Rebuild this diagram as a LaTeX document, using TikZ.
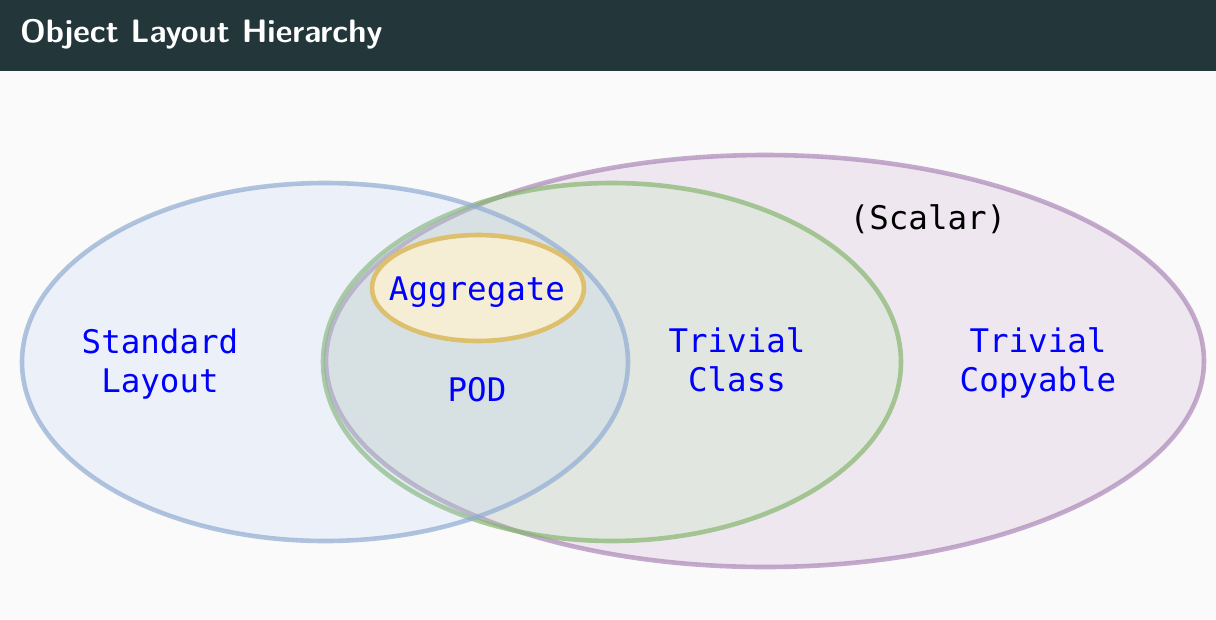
\documentclass[tikz,border=0pt]{standalone}
\usepackage{fontspec}
\newfontfamily\codefont{DejaVu Sans Mono}
\definecolor{headbg}{HTML}{23373B}
\definecolor{pagebg}{HTML}{FAFAFA}
\definecolor{slblue}{RGB}{175,205,245}
\definecolor{slbluedraw}{RGB}{145,172,210}
\definecolor{tcgreen}{RGB}{167,230,163}
\definecolor{tcgreendraw}{RGB}{135,182,112}
\definecolor{cppurple}{RGB}{185,150,190}
\definecolor{cppurpledraw}{RGB}{172,136,184}
\definecolor{aggfill}{HTML}{F5EED5}
\definecolor{aggdraw}{HTML}{DCC06E}
\tikzset{
  setshape/.style={line width=4.6pt, fill opacity=0.18, draw opacity=0.7},
  setlabel/.style={font=\codefont\fontsize{32.5}{39}\selectfont, text=blue, align=center, inner sep=0pt},
  note/.style={font=\codefont\fontsize{32.5}{39}\selectfont, text=black, inner sep=0pt},
  titletext/.style={font=\sffamily\bfseries\fontsize{32.4}{40}\selectfont, text=white, anchor=base west, inner sep=0pt}
}
\begin{document}
\begin{tikzpicture}[x=1pt, y=-1pt]
  \useasboundingbox (0,0) rectangle (1216,619);
  % page and header bar
  \fill[pagebg] (0,0) rectangle (1216,619);
  \fill[headbg] (0,0) rectangle (1216,71);
  \node[titletext] (title) at (20,42) {Object Layout Hierarchy};

  % sets
  \draw[setshape, draw=cppurpledraw, fill=cppurple] (765,361) ellipse [x radius=439, y radius=206];
  \draw[setshape, draw=tcgreendraw, fill=tcgreen] (612,362) ellipse [x radius=289, y radius=179];
  \draw[setshape, draw=slbluedraw, fill=slblue] (325,362) ellipse [x radius=303, y radius=179];
  \draw[line width=4.6pt, draw=aggdraw, fill=aggfill] (478,288) ellipse [x radius=106, y radius=53];

  % labels
  \node[setlabel] (stdlayout) at (160,364.5) {Standard\\Layout};
  \node[setlabel] (aggregate) at (477,292.5) {Aggregate};
  \node[setlabel] (pod) at (477,390) {POD};
  \node[setlabel] (trivclass) at (737,360) {Trivial\\Class};
  \node[setlabel] (trivcopy) at (1038,362.5) {Trivial\\Copyable};
  \node[note] (scalar) at (928,219) {(Scalar)};
\end{tikzpicture}
\end{document}
